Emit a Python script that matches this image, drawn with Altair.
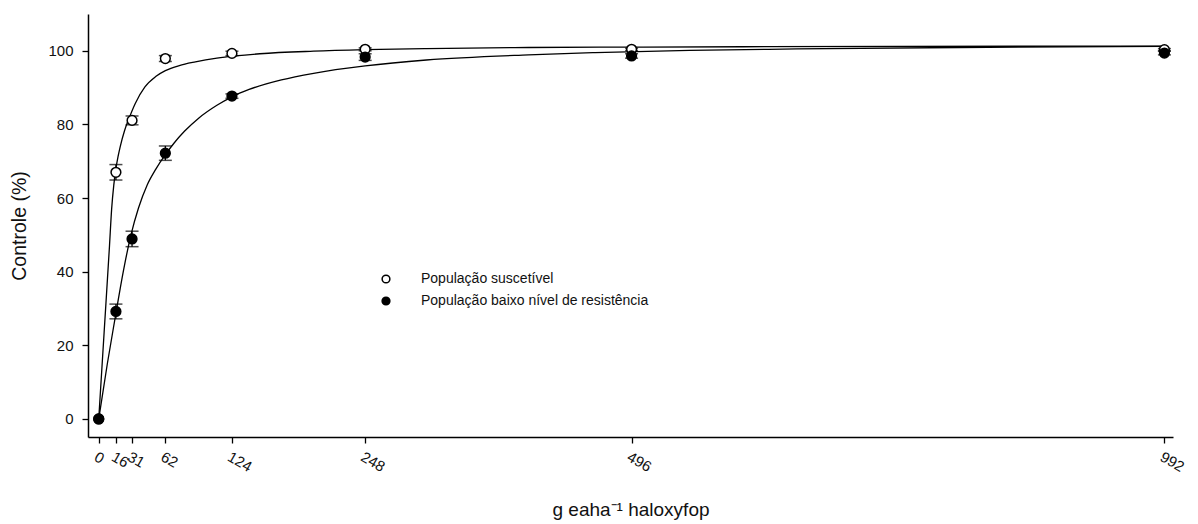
import altair as alt
import pandas as pd

# Observed data (dose g e.a. ha-1, control %)
doses = [0, 16, 31, 62, 124, 248, 496, 992]
sus_mean = [0, 67.0, 81.1, 97.9, 99.3, 100.4, 100.4, 100.3]
sus_err = [0, 2.1, 1.2, 0.8, 0.6, 0.4, 0.3, 0.3]
res_mean = [0, 29.2, 48.9, 72.2, 87.7, 98.3, 98.6, 99.4]
res_err = [0, 2.0, 2.1, 1.95, 0.6, 0.9, 0.6, 0.5]

# Fitted curves
sus_curve_x = [0, 5, 10, 12, 14, 16, 18, 20, 24, 28, 34, 43, 53, 62, 75, 90, 110, 127, 150, 200, 248, 305, 400, 496, 600, 750, 992]
sus_curve_y = [0, 23.5, 47, 57, 63.5, 68, 71.3, 74, 78.3, 81.5, 85.7, 90.2, 93.0, 94.6, 96.0, 97.0, 98.0, 98.6, 99.2, 99.9, 100.3, 100.6, 100.9, 101.0, 101.1, 101.2, 101.3]
res_curve_x = [0, 8, 16, 20, 24, 30, 37, 45, 53, 62, 70, 80, 93, 110, 124, 140, 170, 200, 248, 305, 400, 462, 550, 650, 800, 992]
res_curve_y = [0, 15, 28.7, 35.5, 41.8, 50, 57.3, 63.5, 67.8, 71.8, 74.9, 78.2, 81.7, 85.2, 87.5, 89.5, 92.1, 93.9, 95.9, 97.5, 98.9, 99.5, 100.1, 100.5, 100.9, 101.2]

SUS = "População suscetível"
RES = "População baixo nível de resistência"

pts = pd.DataFrame(
    {"dose": doses + doses,
     "mean": sus_mean + res_mean,
     "err": sus_err + res_err,
     "grupo": [SUS] * len(doses) + [RES] * len(doses)}
)
pts["lo"] = pts["mean"] - pts["err"]
pts["hi"] = pts["mean"] + pts["err"]
bars = pts[pts["err"] > 0]

curves = pd.DataFrame(
    {"dose": sus_curve_x + res_curve_x,
     "val": sus_curve_y + res_curve_y,
     "grupo": [SUS] * len(sus_curve_x) + [RES] * len(res_curve_x)}
)

FONT = "Liberation Sans"
xscale = alt.Scale(domain=[-10, 1000], nice=False, zero=False)
yscale = alt.Scale(domain=[-4.9, 110], nice=False, zero=False)

xaxis = alt.Axis(
    values=doses, title="g eaha⁻¹ haloxyfop", labelAngle=30, grid=False,
    labelFontSize=15, labelPadding=6, titleFontSize=19, titleFontWeight="normal",
    titleY=63, titleBaseline="top", labelFlush=False, labelOverlap=False,
)
yaxis = alt.Axis(
    values=[0, 20, 40, 60, 80, 100], title="Controle (%)", grid=False,
    labelFontSize=15, labelPadding=9, titleFontSize=19.5, titleFontWeight="normal",
    titleX=-69, titleBaseline="middle", labelFlush=False,
)

base_x = alt.X("dose:Q", scale=xscale, axis=xaxis)

lines = alt.Chart(curves).mark_line(color="black", strokeWidth=1.3, interpolate="monotone").encode(
    x=base_x,
    y=alt.Y("val:Q", scale=yscale, axis=yaxis),
    detail="grupo:N",
)

rules = alt.Chart(bars).mark_rule(color="black", strokeWidth=1.3).encode(
    x=alt.X("dose:Q", scale=xscale),
    y=alt.Y("lo:Q", scale=yscale),
    y2="hi:Q",
)
cap_lo = alt.Chart(bars).mark_tick(color="black", orient="horizontal", size=13, thickness=1.5).encode(
    x=alt.X("dose:Q", scale=xscale),
    y=alt.Y("lo:Q", scale=yscale),
)
cap_hi = alt.Chart(bars).mark_tick(color="black", orient="horizontal", size=13, thickness=1.5).encode(
    x=alt.X("dose:Q", scale=xscale),
    y=alt.Y("hi:Q", scale=yscale),
)

points = alt.Chart(pts).mark_point(
    filled=True, stroke="black", strokeWidth=1.5, size=95, opacity=1, shape="circle"
).encode(
    x=alt.X("dose:Q", scale=xscale),
    y=alt.Y("mean:Q", scale=yscale),
    fill=alt.Fill(
        "grupo:N",
        scale=alt.Scale(domain=[SUS, RES], range=["white", "black"]),
        legend=alt.Legend(
            title=None, orient="none", legendX=291, legendY=258,
            labelFontSize=14, labelOffset=28, rowPadding=8, padding=0,
            symbolType="circle", symbolSize=60, symbolStrokeColor="black",
            symbolStrokeWidth=1.5, labelLimit=400, labelFont=FONT, labelColor="#111",
        ),
    ),
)

chart = alt.layer(lines, rules, cap_lo, cap_hi, points).properties(
    width=1085, height=423,
    background="white",
    autosize=alt.AutoSizeParams(type="none"),
    padding={"left": 80, "top": 6, "right": 17, "bottom": 85},
).configure_view(strokeWidth=0, stroke="transparent").configure_axis(
    domainColor="black", domainWidth=1.5, tickColor="black", tickSize=6, tickWidth=1.3,
    labelColor="#111", titleColor="#111", labelFont=FONT, titleFont=FONT,
)

chart.save("out.html", embed_options={"renderer": "svg", "actions": False})
